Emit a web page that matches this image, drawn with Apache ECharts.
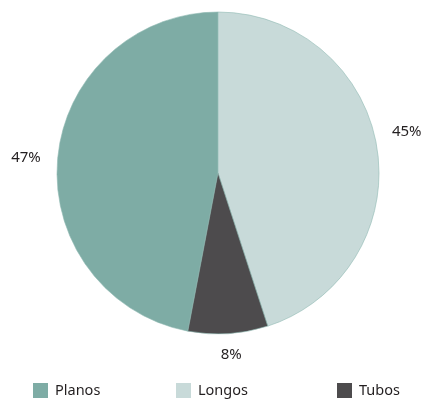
<!DOCTYPE html>
<html>
<head>
<meta charset="utf-8">
<style>
  html, body { margin: 0; padding: 0; background: #ffffff; }
  #chart { width: 425px; height: 400px; }
</style>
<script src="https://cdn.jsdelivr.net/npm/echarts@6/dist/echarts.min.js"></script>
</head>
<body>
<div id="chart"></div>
<script>
// Product mix shares (percent)
const categories = ['Planos', 'Longos', 'Tubos'];
const shares = [47, 45, 8];
const colors = ['#7eaca5', '#c8dad9', '#4d4b4d'];

const chart = echarts.init(document.getElementById('chart'), null, { renderer: 'canvas' });

const fontFamily = '"Noto Sans", "Open Sans", sans-serif';
const textColor = '#231f20';

// One legend per entry so each sits in its own column
const legendLefts = [33, 176, 337];
const legends = categories.map((name, i) => ({
  data: [name],
  left: legendLefts[i],
  top: 383,
  orient: 'horizontal',
  itemWidth: 15,
  itemHeight: 15,
  itemGap: 0,
  padding: 0,
  icon: 'rect',
  selectedMode: false,
  itemStyle: { borderWidth: 0 },
  textStyle: { fontFamily, fontSize: 14.5, color: textColor, padding: [2, 0, 0, 2] }
}));

// Nudges for the outside percentage labels
const labelOffsets = [[-2, 1], [0, -15], [-13, 11]];

const data = categories.map((name, i) => ({
  name,
  value: shares[i],
  itemStyle: { color: colors[i] },
  label: { offset: labelOffsets[i] }
}));

chart.setOption({
  animation: false,
  legend: legends,
  series: [{
    type: 'pie',
    center: [218, 173],
    radius: 161,
    startAngle: 90 + shares[0] * 3.6,
    clockwise: true,
    data,
    itemStyle: { borderColor: '#8fb8b1', borderWidth: 0.6 },
    label: {
      show: true,
      position: 'outside',
      formatter: p => p.value + '%',
      overflow: 'none',
      fontFamily,
      fontSize: 15,
      color: textColor
    },
    labelLayout: { hideOverlap: false },
    labelLine: { show: false, length: 10, length2: 0 },
    emphasis: { disabled: true }
  }]
});
</script>
</body>
</html>
